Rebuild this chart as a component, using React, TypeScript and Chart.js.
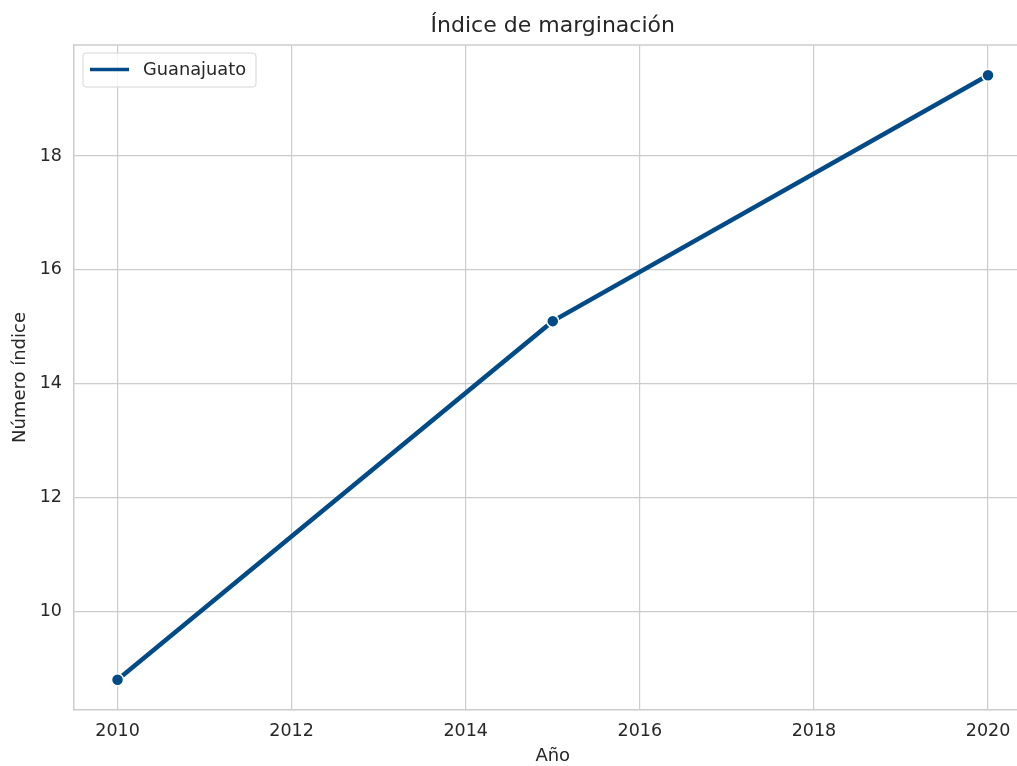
import React, { useEffect, useRef } from "react";
import { Chart, registerables } from "chart.js";

Chart.register(...registerables);

const years = [2010, 2015, 2020];
const values = [8.8, 15.1, 19.42];
const xTicks = [2010, 2012, 2014, 2016, 2018, 2020];
const yTicks = [10, 12, 14, 16, 18];
const seriesName = "Guanajuato";
const chartTitle = "Índice de marginación";
const xTitle = "Año";
const yTitle = "Número índice";

const LINE = "#004b87";
const TEXT = "#262626";
const GRID = "#cccccc";
const FONT = "'DejaVu Sans', sans-serif";

export default function App() {
  const ref = useRef<HTMLCanvasElement | null>(null);

  useEffect(() => {
    document.body.style.margin = "0";
    const canvas = ref.current;
    if (!canvas) return;

    const textPlugin = {
      id: "textPlugin",
      beforeDatasetsDraw(chart: any) {
        const ctx = chart.ctx;
        const ca = chart.chartArea;
        ctx.save();
        ctx.beginPath();
        ctx.moveTo(ca.left, ca.top);
        ctx.lineTo(ca.right, ca.top);
        ctx.strokeStyle = GRID;
        ctx.lineWidth = 1.5;
        ctx.stroke();
        ctx.restore();
      },
      afterDraw(chart: any) {
        const ctx = chart.ctx;
        const ca = chart.chartArea;
        const xs = chart.scales.x;
        // full (clipped) axes extent: 2009.5 .. 2020.5
        const axRight = xs.getPixelForValue(2020.5);
        const axCenter = (ca.left + axRight) / 2;
        ctx.save();
        ctx.fillStyle = TEXT;
        ctx.textAlign = "center";
        ctx.textBaseline = "middle";
        ctx.font = `22px ${FONT}`;
        ctx.fillText(chartTitle, axCenter, 26);
        ctx.font = `18px ${FONT}`;
        ctx.fillText(xTitle, axCenter, 756);
        ctx.save();
        ctx.translate(20, (ca.top + ca.bottom) / 2);
        ctx.rotate(-Math.PI / 2);
        ctx.fillText(yTitle, 0, 0);
        ctx.restore();

        // legend
        const bx = 83, by = 53, bw = 173, bh = 34, r = 3;
        ctx.beginPath();
        ctx.moveTo(bx + r, by);
        ctx.lineTo(bx + bw - r, by);
        ctx.arcTo(bx + bw, by, bx + bw, by + r, r);
        ctx.lineTo(bx + bw, by + bh - r);
        ctx.arcTo(bx + bw, by + bh, bx + bw - r, by + bh, r);
        ctx.lineTo(bx + r, by + bh);
        ctx.arcTo(bx, by + bh, bx, by + bh - r, r);
        ctx.lineTo(bx, by + r);
        ctx.arcTo(bx, by, bx + r, by, r);
        ctx.closePath();
        ctx.fillStyle = "rgba(255,255,255,0.8)";
        ctx.fill();
        ctx.strokeStyle = "#d6d6d6";
        ctx.lineWidth = 1;
        ctx.stroke();
        ctx.beginPath();
        ctx.moveTo(90, 69.5);
        ctx.lineTo(129, 69.5);
        ctx.strokeStyle = LINE;
        ctx.lineWidth = 3.5;
        ctx.stroke();
        ctx.fillStyle = TEXT;
        ctx.textAlign = "left";
        ctx.font = `17.8px ${FONT}`;
        ctx.fillText(seriesName, 143, 70);
        ctx.restore();
      },
    };

    const chart = new Chart(canvas, {
      type: "line",
      data: {
        datasets: [
          {
            label: seriesName,
            data: years.map((y, i) => ({ x: y, y: values[i] })),
            borderColor: LINE,
            backgroundColor: LINE,
            borderWidth: 4.5,
            pointRadius: 6,
            pointHoverRadius: 6,
            pointBackgroundColor: LINE,
            pointBorderColor: "#ffffff",
            pointBorderWidth: 1.5,
            tension: 0,
            clip: false,
          },
        ],
      },
      options: {
        responsive: false,
        animation: false,
        layout: { autoPadding: false, padding: { top: 45, left: 0, right: 0, bottom: 0 } },
        plugins: {
          legend: { display: false },
          title: { display: false },
          tooltip: { enabled: false },
        },
        scales: {
          x: {
            type: "linear",
            min: 2009.5,
            max: 2020.333,
            afterBuildTicks: (s: any) => {
              s.ticks = xTicks.map((v) => ({ value: v }));
            },
            afterFit: (s: any) => {
              s.height = 56;
              s.paddingRight = 0;
              s.paddingLeft = 0;
            },
            ticks: {
              color: TEXT,
              font: { family: FONT, size: 17.5 },
              padding: 11,
              maxRotation: 0,
              autoSkip: false,
              callback: (v: any) => String(v),
            },
            grid: { color: GRID, lineWidth: 1.2, drawTicks: false },
            border: { color: GRID, width: 1.5 },
          },
          y: {
            type: "linear",
            min: 8.269,
            max: 19.951,
            afterBuildTicks: (s: any) => {
              s.ticks = yTicks.map((v) => ({ value: v }));
            },
            afterFit: (s: any) => {
              s.width = 74;
              s.paddingTop = 0;
              s.paddingBottom = 0;
            },
            ticks: {
              color: TEXT,
              font: { family: FONT, size: 17.5 },
              padding: 12,
              autoSkip: false,
              callback: (v: any) => String(v),
            },
            grid: { color: GRID, lineWidth: 1.2, drawTicks: false },
            border: { color: GRID, width: 1.5 },
          },
        },
      },
      plugins: [textPlugin],
    } as any);

    return () => chart.destroy();
  }, []);

  return <canvas ref={ref} width={1017} height={766} style={{ display: "block" }} />;
}
